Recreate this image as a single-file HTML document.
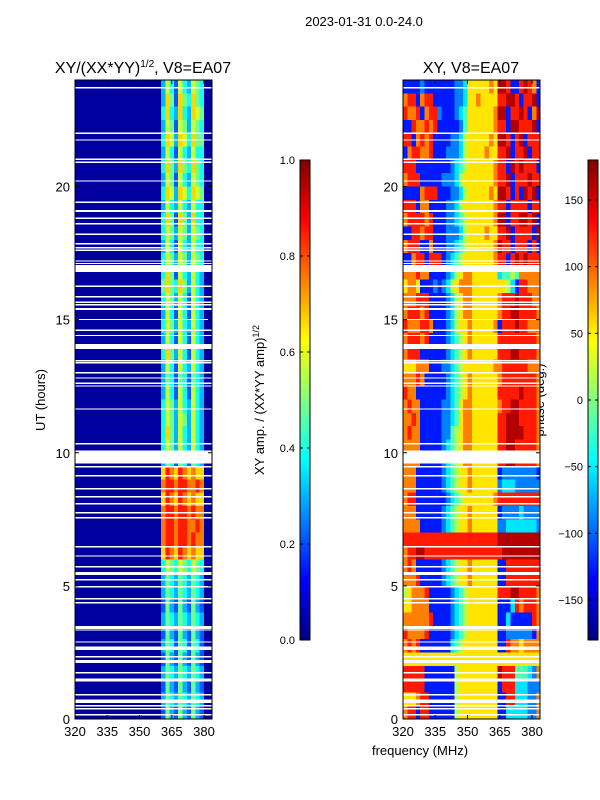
<!DOCTYPE html>
<html><head><meta charset="utf-8">
<style>
html,body{margin:0;padding:0;background:#fff;}
svg{display:block;font-family:"Liberation Sans","DejaVu Sans",sans-serif;}
</style></head>
<body>
<svg id="fig" width="600" height="800" viewBox="0 0 600 800" xmlns="http://www.w3.org/2000/svg">
<rect width="600" height="800" fill="#fff"/>
<text x="364" y="26" font-size="13" text-anchor="middle">2023-01-31 0.0-24.0</text>
<text x="143" y="73" font-size="16" text-anchor="middle">XY/(XX*YY)<tspan font-size="10" dy="-6">1/2</tspan><tspan dy="6">, V8=EA07</tspan></text>
<text x="471" y="73" font-size="16" text-anchor="middle">XY, V8=EA07</text>
<text transform="translate(45,400) rotate(-90)" font-size="13" text-anchor="middle">UT (hours)</text>
<text x="420" y="755" font-size="13" text-anchor="middle">frequency (MHz)</text>
<text transform="translate(264,400) rotate(-90)" font-size="13" text-anchor="middle">XY amp. / (XX*YY amp)<tspan font-size="9" dy="-5">1/2</tspan></text>
<text transform="translate(544,400) rotate(-90)" font-size="13" text-anchor="middle">phase (deg.)</text>
<g id="layer"></g>
</svg>
<script>
// ---- data ----
const timeStartHours = 24;           // top row begins at 24 h
const rowHours = 0.5;                // each row spans 0.5 h
const freqStart = 320;               // MHz
const freqStep = 2;                  // MHz per column
const xTicks = [320, 335, 350, 365, 380];
const yTicks = [0, 5, 10, 15, 20];
const ampTicks = [0.0, 0.2, 0.4, 0.6, 0.8, 1.0];
const phaseTicks = [-150, -100, -50, 0, 50, 100, 150];
const ampRows = [
"00000000000000000000364264365400","00000000000000000000375275475400","00000000000000000000474374376500","00000000000000000000365265365400",
"00000000000000000000476376475500","00000000000000000000364264364400","00000000000000000000475375475400","00000000000000000000365264365400",
"00000000000000000000476376476500","00000000000000000000364364364400","00000000000000000000475275374400","00000000000000000000465365365400",
"00000000000000000000364264364400","00000000000000000000465365365400","00000000000000000000475264364300","00000000000000000000575475364300",
"00000000000000000000465364264300","00000000000000000000364264264300","00000000000000000000465364364300","00000000000000000000364264264300",
"00000000000000000000475364264300","00000000000000000000364264364300","00000000000000000000354254254300","00000000000000000000364264264300",
"00000000000000000000465364364300","00000000000000000000465365364300","00000000000000000000475364364300","00000000000000000000465364364300",
"00000000000000000000354254254300","00000000000000000000798798787700","00000000000000000000899899889800","00000000000000000000798798787700",
"00000000000000000000899899898800","00000000000000000000899899889800","00000000000000000000899899898800","00000000000000000000798798787700",
"00000000000000000000465465465400","00000000000000000000354354354300","00000000000000000000354354354300","00000000000000000000253253253200",
"00000000000000000000354354354300","00000000000000000000253253253200","00000000000000000000354254254200","00000000000000000000253253253200",
"00000000000000000000354354354300","00000000000000000000253253253200","00000000000000000000354354354300","00000000000000000000253253253200"
];
const phaseRows = [
"11112111111122366666769981189871","78817881111122366766668899818891","87781788211123466666679918898179","11877878111112466666678819988891",
"88178781111223566666769981891888","17887781112223566667668891889188","88811111111234566666678819898881","78881111122235666666678891888988",
"11117888111223566666769981819891","88817711112235666666678818888188","78888781112234566666679918899891","11887881112223566667668891888819",
"78881171112234566666679881888181","11788188812345666666678818989888","77787711112356776666663445477777","67761112123567776666666653188777",
"77788811112356776666667888988877","78887811112356776666667889988887","87778871112356676666671888988777","78887811112345676666668888888887",
"78881111112345676666668889988887","66677711122345666666677888888777","77787111112345676666667888888887","87711111112345676666668888898887",
"78771111122346776666667889988887","77871111122346776666668899988887","78771111122456776666668899998887","77771111123456776666668899888887",
"77771111123456776666668899888887","77711111123456676666661222222221","77711111123456676666662333222222","78811111112345666666678888888888",
"77711111123456676666661222232222","77771111123456676666662233333332","88888888888888888888889999999999","78899888888888888888888999999999",
"78711111123456676666661188888888","77781111123456676666661188888888","56777811111234566666668889988887","66777711111234566666661113878887",
"77777781111234566666661131111187","87777811111234566666661122222217","78781111111345666666661187767777","66666666666666666666666666666666",
"88888111111156666666669888444327","88888111111156666666661888333222","66678811111156666666661188333227","78818811111156666666661133333227"
];
// flagged (blank) time intervals [start h, end h]
const gapStart = [23.68,21.98,21.72,21.0,20.88,20.18,19.38,19.05,18.77,18.58,18.18,17.83,17.68,17.58,17.18,17.08,16.79,16.23,15.83,15.63,15.53,15.36,14.98,14.58,14.38,13.9,13.43,13.35,12.98,12.78,12.58,12.48,11.62,10.31,9.6,9.45,9.11,8.62,8.32,8.06,7.72,7.53,6.44,6.1,5.69,5.41,5.2,4.94,4.49,4.34,3.38,3.32,2.87,2.6,2.31,2.1,1.71,1.4,0.88,0.6,0.47,0.36,0.13];
const gapEnd   = [23.73,22.03,21.77,21.05,20.93,20.23,19.43,19.12,18.84,18.63,18.23,17.88,17.73,17.63,17.23,17.13,17.06,16.28,15.88,15.68,15.58,15.43,15.03,14.63,14.43,14.09,13.48,13.4,13.03,12.83,12.63,12.53,11.67,10.36,10.08,9.5,9.16,8.67,8.37,8.11,7.77,7.58,6.49,6.15,5.74,5.53,5.25,4.99,4.54,4.39,3.5,3.37,2.92,2.72,2.36,2.22,1.76,1.52,0.93,0.73,0.52,0.41,0.18];

// ---- layout ----
const panelTop = 80, panelBottom = 719;
const panels = [{name:'amp', x0:75, x1:212}, {name:'phase', x0:403, x1:540}];
const pxPerMHz = 2.15;
function yScale(h){ return panelBottom - h * (panelBottom - panelTop) / 24; }
function jet(v){
  v = Math.max(0, Math.min(1, v));
  const c = t => Math.round(255 * Math.max(0, Math.min(1, t)));
  return `rgb(${c(1.5-Math.abs(4*v-3))},${c(1.5-Math.abs(4*v-2))},${c(1.5-Math.abs(4*v-1))})`;
}
const NS = 'http://www.w3.org/2000/svg';
const layer = document.getElementById('layer');
function mk(tag, attrs, parent){
  const e = document.createElementNS(NS, tag);
  for (const k in attrs) e.setAttribute(k, attrs[k]);
  (parent || layer).appendChild(e); return e;
}
const defs = mk('defs', {});

panels.forEach((p, pi) => {
  const xScale = f => p.x0 + (f - 320) * pxPerMHz;
  const cp = mk('clipPath', {id:'clip'+pi}, defs);
  mk('rect', {x:p.x0, y:panelTop, width:p.x1-p.x0, height:panelBottom-panelTop}, cp);
  const g = mk('g', {'clip-path':`url(#clip${pi})`, 'shape-rendering':'crispEdges'});
  
  
  const rows = pi === 0 ? ampRows : phaseRows;
  rows.forEach((row, ri) => {
    const hTop = timeStartHours - ri * rowHours, hBot = hTop - rowHours;
    const y0 = yScale(hTop), y1 = yScale(hBot);
    for (let ci = 0; ci < row.length; ci++) {
      const d = +row[ci];
      const v = pi === 0 ? d / 11 + 0.03 : (d + 0.5) / 10;
      const fa = freqStart + ci * freqStep;
      const r = mk('rect', {x:xScale(fa), y:y0, width:freqStep*pxPerMHz+0.5, height:y1-y0+0.5, fill:jet(v)}, g);
      
      
    }
  });
  gapStart.forEach((s, i) => {
    const r = mk('rect', {x:p.x0, y:yScale(gapEnd[i]), width:p.x1-p.x0, height:Math.max(1, yScale(s)-yScale(gapEnd[i])), fill:'#fff'}, g);
    
    
  });
  const fr = mk('rect', {x:p.x0, y:panelTop, width:p.x1-p.x0, height:panelBottom-panelTop, fill:'none', stroke:'#000', 'stroke-width':1});
  
  
  xTicks.forEach(t => {
    const x = xScale(t);
    mk('line', {x1:x, x2:x, y1:panelBottom, y2:panelBottom-4, stroke:'#000'});
    mk('line', {x1:x, x2:x, y1:panelTop, y2:panelTop+4, stroke:'#000'});
    const tx = mk('text', {x:x, y:panelBottom+17, 'font-size':13, 'text-anchor':'middle'});
    tx.textContent = t;
    
    
  });
  yTicks.forEach(t => {
    const y = yScale(t);
    mk('line', {x1:p.x0, x2:p.x0+4, y1:y, y2:y, stroke:'#000'});
    mk('line', {x1:p.x1, x2:p.x1-4, y1:y, y2:y, stroke:'#000'});
    const tx = mk('text', {x:p.x0-5, y:y+5, 'font-size':13, 'text-anchor':'end'});
    tx.textContent = t;
    
    
  });
});

// colorbars
const cbTop = 160, cbBot = 640;
const cbs = [{name:'amp', x:300, ticks:ampTicks, min:0, max:1, fmt:t=>t.toFixed(1)},
             {name:'phase', x:588, ticks:phaseTicks, min:-180, max:180, fmt:t=>t<0?'\u2212'+(-t):''+t}];
cbs.forEach(cb => {
  const g = mk('g', {'shape-rendering':'crispEdges'});
  
  
  for (let i = 0; i < 120; i++) {
    const y = cbBot - (i + 1) * (cbBot - cbTop) / 120;
    mk('rect', {x:cb.x, y:y, width:10, height:(cbBot-cbTop)/120+0.5, fill:jet((i+0.5)/120)}, g);
  }
  mk('rect', {x:cb.x, y:cbTop, width:10, height:cbBot-cbTop, fill:'none', stroke:'#000'}, g);
  cb.ticks.forEach(t => {
    const y = cbBot - (t - cb.min) / (cb.max - cb.min) * (cbBot - cbTop);
    mk('line', {x1:cb.x, x2:cb.x+3, y1:y, y2:y, stroke:'#000'});
    mk('line', {x1:cb.x+10, x2:cb.x+7, y1:y, y2:y, stroke:'#000'});
    const tx = mk('text', {x:cb.x-5, y:y+4, 'font-size':11, 'text-anchor':'end'});
    tx.textContent = cb.fmt(t);
    
    
  });
});
</script>
</body></html>
